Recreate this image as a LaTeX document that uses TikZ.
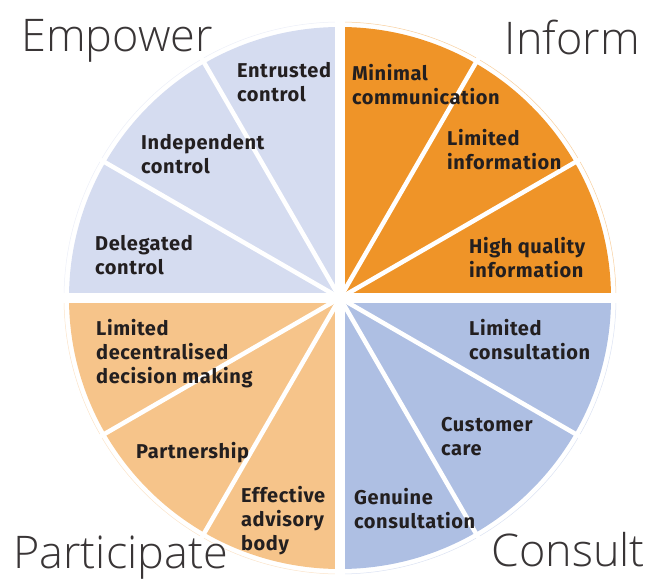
\documentclass[tikz,border=0pt]{standalone}
\usepackage{fontspec}
\setmainfont{Fira Sans}[LetterSpace=3]
\newfontfamily\titlefont{Open Sans Light}
\definecolor{informc}{RGB}{239,148,40}
\definecolor{consultc}{RGB}{174,191,227}
\definecolor{participatec}{RGB}{246,196,138}
\definecolor{empowerc}{RGB}{213,220,240}
\definecolor{inkc}{RGB}{35,31,32}

\begin{document}
\begin{tikzpicture}[x=1pt,y=1pt,
      level/.style={anchor=west,inner sep=0pt,align=left,text=inkc,
        font=\bfseries\fontsize{20}{24}\selectfont},
      group/.style={inner sep=0pt,text=inkc!90,font=\titlefont\fontsize{45}{50}\selectfont}]
      \useasboundingbox (-340,-288) rectangle (317,298);
      \coordinate (c) at (0,0);
      % quadrants
      \foreach \a/\col in {0/informc,270/consultc,180/participatec,90/empowerc}{
        \fill[\col] (c) -- ++(\a:271) arc (\a:\a+90:271) -- cycle;
        \draw[\col!45,line width=0.5pt] (\a+1:276) arc (\a+1:\a+89:276);
      }
      % white separators
      \foreach \a in {30,60,120,150,210,240,300,330}
        \draw[white,line width=4.5pt] (c) -- (\a:285);
      \foreach \a in {0,90,180,270}
        \draw[white,line width=10pt] (c) -- (\a:285);
      % levels
      \node[level] (minimal) at (12,213) {Minimal\\communication};
      \node[level] (limitinfo) at (107,148) {Limited\\information};
      \node[level] (highinfo) at (129,40) {High quality\\information};
      \node[level] (limitcons) at (129,-42) {Limited\\consultation};
      \node[level] (custcare) at (101,-139) {Customer\\care};
      \node[level] (genuine) at (14,-211) {Genuine\\consultation};
      \node[level] (decentral) at (-244,-56) {Limited\\decentralised\\decision making};
      \node[level] (partner) at (-204,-155) {Partnership};
      \node[level] (advisory) at (-99,-223) {Effective\\advisory\\body};
      \node[level] (delegated) at (-245,43) {Delegated\\control};
      \node[level] (independ) at (-199,144) {Independent\\control};
      \node[level] (entrusted) at (-103,216) {Entrusted\\control};
      % groups
      \node[group,anchor=base west] (empower) at (-319,246) {Empower};
      \node[group,anchor=base east] (inform) at (300,243) {Inform};
      \node[group,anchor=base west] (participate) at (-327,-271) {Participate};
      \node[group,anchor=base east] (consult) at (305,-269) {Consult};
    \end{tikzpicture}
\end{document}
